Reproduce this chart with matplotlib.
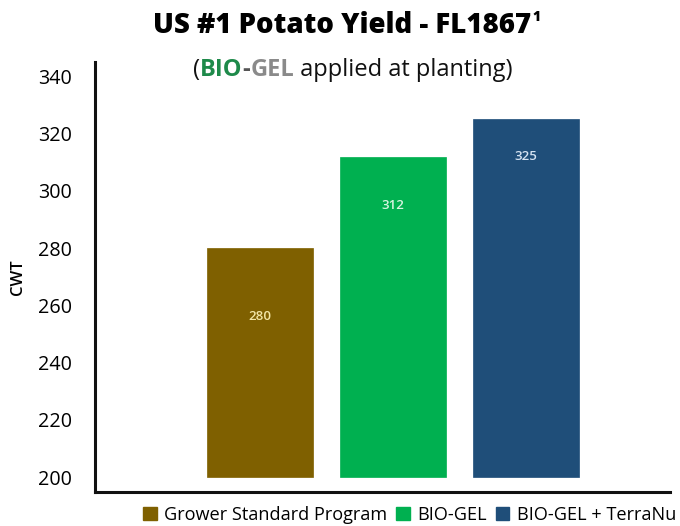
import matplotlib
matplotlib.use("Agg")
import matplotlib.pyplot as plt
from matplotlib.patches import Patch

categories = ["Grower Standard Program", "BIO-GEL", "BIO-GEL + TerraNu"]
values = [280, 312, 325]
value_labels = ["280", "312", "325"]
label_offsets = [24, 17, 13]
yticks = [200, 220, 240, 260, 280, 300, 320, 340]

colors = ["#7f6000", "#00b050", "#1f4e79"]
label_colors = ["#f3e6a6", "#d8f5e0", "#d5e3f2"]
base = 200

plt.rcParams['font.family'] = ['Open Sans', 'DejaVu Sans']

fig = plt.figure(figsize=(6.8, 5.26), dpi=100)
ax = fig.add_axes([0.1397, 0.0646, 0.8453, 0.8174])

x = list(range(len(values)))
heights = [v - base for v in values]
ax.bar(x, heights, bottom=base, width=0.8, color=colors, edgecolor=colors, linewidth=0.5)
for xi, v, lab, off, lc in zip(x, values, value_labels, label_offsets, label_colors):
    ax.text(xi, v - off, lab, ha='center', va='center', color=lc, fontsize=9.5, fontweight='semibold')

ax.set_xlim(-1.244, 3.086)
ax.set_ylim(194.8, 345)
ax.set_yticks(yticks)
ax.set_yticklabels([str(t) for t in yticks], fontsize=14.2)
ax.set_xticks([])
ax.tick_params(axis='y', length=0, pad=16.5)
for s in ['top', 'right']:
    ax.spines[s].set_visible(False)
for s in ['left', 'bottom']:
    ax.spines[s].set_linewidth(2.2)
    ax.spines[s].set_color('#111111')
ax.set_ylabel("CWT", fontsize=12, fontweight='semibold')
ax.yaxis.set_label_coords(-0.12, 0.5)

fig.canvas.draw()
renderer = fig.canvas.get_renderer()

# Title
title = fig.text(0, 0.952, "US #1 Potato Yield - FL1867", ha='left', va='center',
                 fontsize=20, fontweight='extra bold', color='black')
tw = title.get_window_extent(renderer).width
fs = 20 * 378 / tw
title.set_fontsize(fs)
tw = title.get_window_extent(renderer).width
tx = 153
title.set_x(tx / 680)
fig.text((tx + tw + 1) / 680, 0.968, "1", ha='left', va='center', fontsize=fs * 0.5,
         fontweight='extra bold')

# Subtitle with coloured parts
parts = [("(", "#111111", 'normal'), ("BIO", "#1e8a4a", 'bold'), ("-", "#555555", 'bold'),
         ("GEL", "#8a8a8a", 'bold'), (" applied at planting)", "#111111", 'normal')]
texts = []
for s, c, w in parts:
    t = fig.text(0, 0.867, s, ha='left', va='center', fontsize=14, color=c, fontweight=w)
    texts.append(t)
widths = [t.get_window_extent(renderer).width for t in texts]
scale = 320 / sum(widths)
for t in texts:
    t.set_fontsize(14 * scale)
widths = [t.get_window_extent(renderer).width for t in texts]
start = 193
for t, w in zip(texts, widths):
    t.set_x(start / 680)
    start += w

handles = [Patch(facecolor=c, edgecolor=c) for c in colors]
leg = fig.legend(handles, categories, loc='center left', bbox_to_anchor=(143 / 680, 0.021), ncol=3,
                 frameon=False, fontsize=13.1, handlelength=0.75, handleheight=0.75,
                 handletextpad=0.4, columnspacing=0.5, borderaxespad=0, borderpad=0.0)

fig.savefig("out.png", dpi=100)
